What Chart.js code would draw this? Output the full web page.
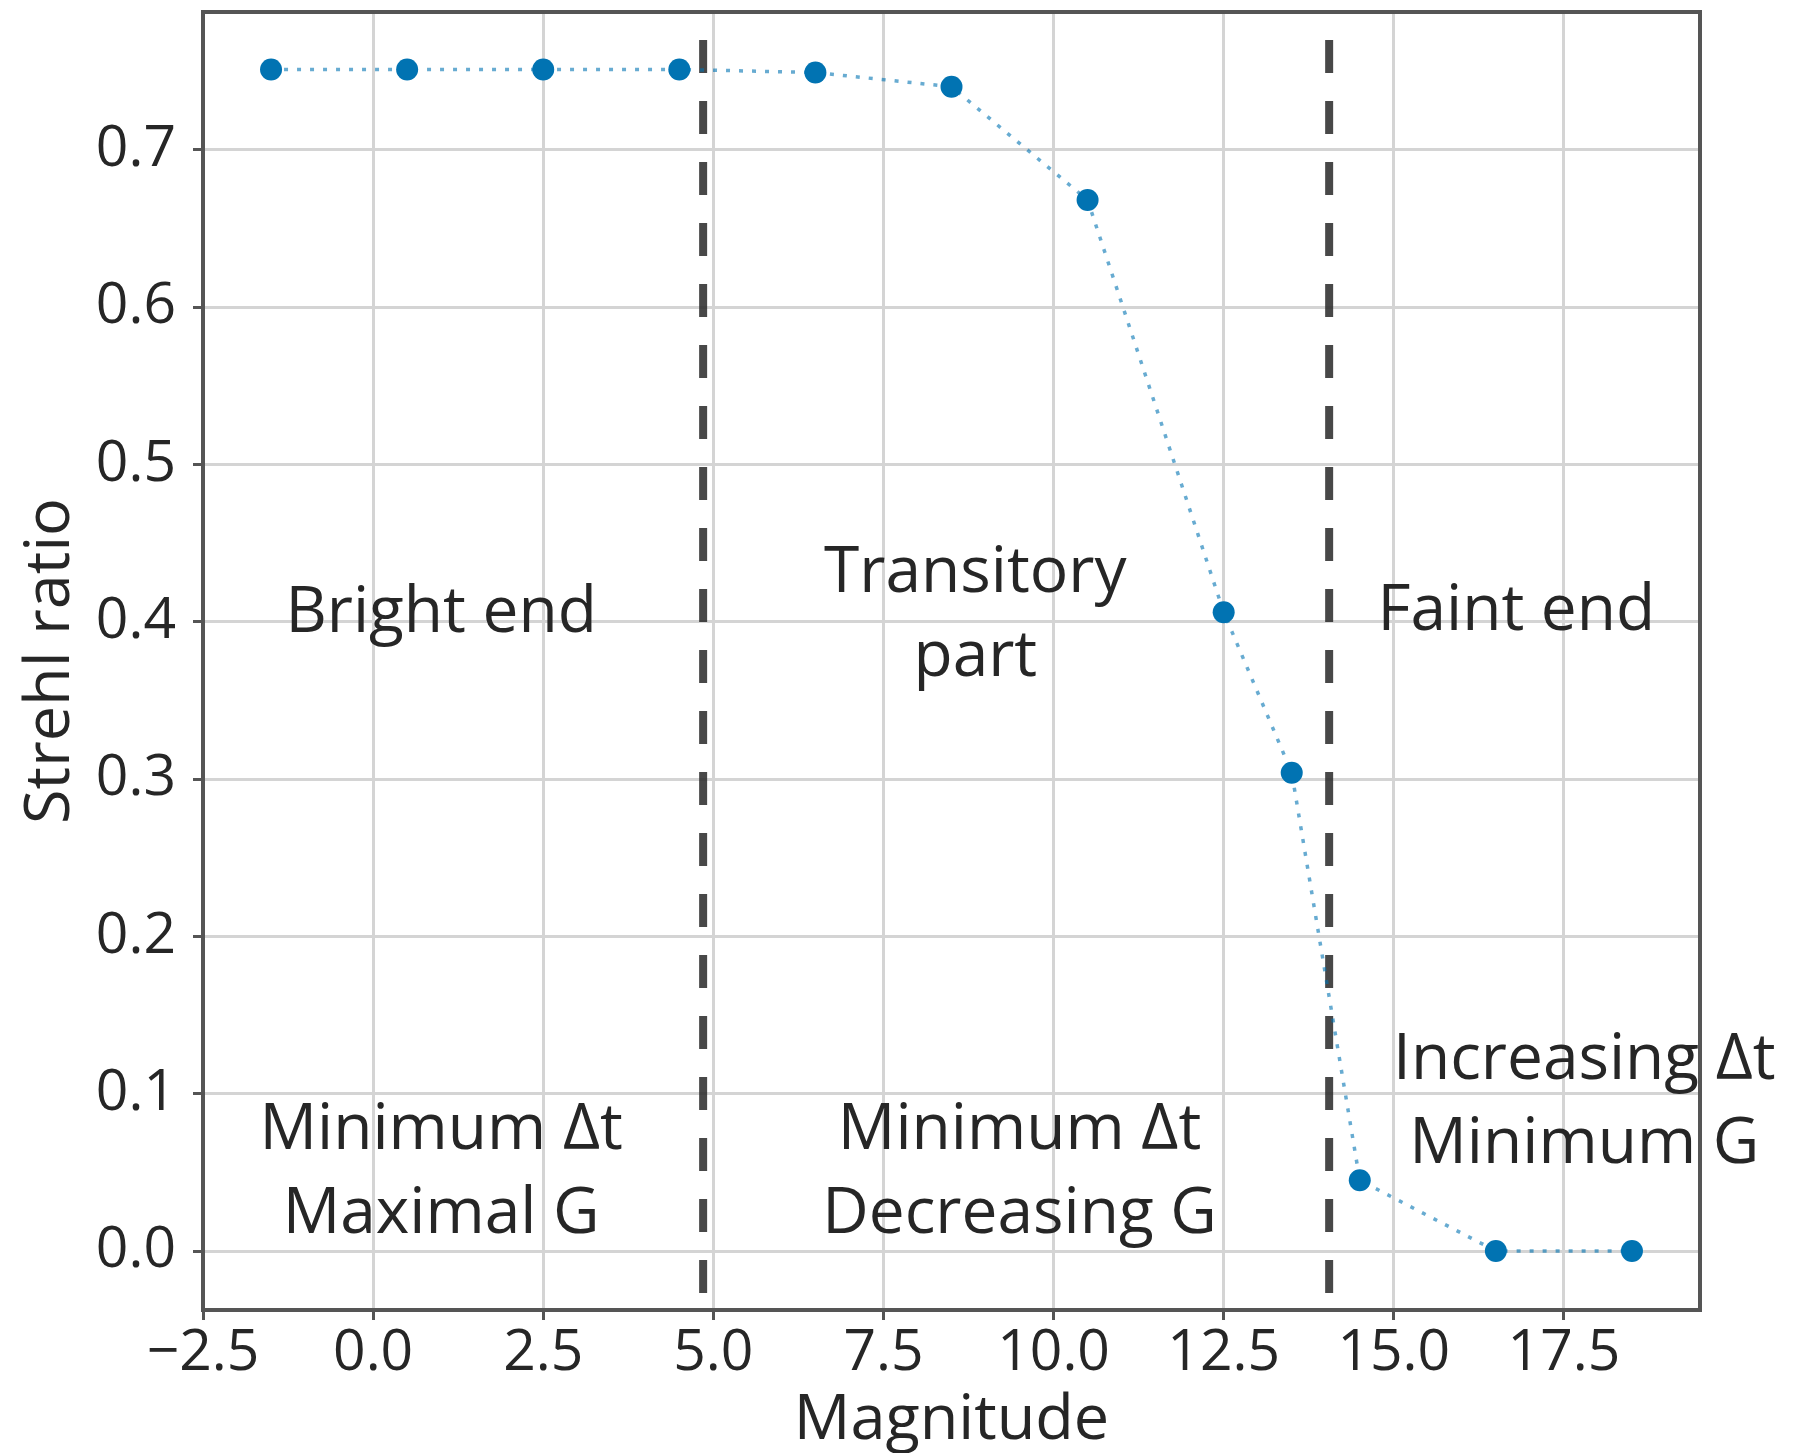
<!DOCTYPE html>
<html>
<head>
<meta charset="utf-8">
<script src="https://cdn.jsdelivr.net/npm/chart.js@4/dist/chart.umd.min.js"></script>
<style>
  html, body { margin: 0; padding: 0; background: #fff; }
  canvas { display: block; }
</style>
</head>
<body>
<canvas id="strehlChart" width="1803" height="1453"></canvas>
<script>
// Data
const magnitudes = [-1.5, 0.5, 2.5, 4.5, 6.5, 8.5, 10.5, 12.5, 13.5, 14.5, 16.5, 18.5];
const strehlRatio = [0.751, 0.751, 0.751, 0.751, 0.749, 0.740, 0.668, 0.406, 0.304, 0.045, 0.0, 0.0];

// Regime boundaries (dashed vertical lines)
const boundaries = [4.85, 14.05];

// Tick labels
const xTicks = [-2.5, 0, 2.5, 5, 7.5, 10, 12.5, 15, 17.5];
const yTicks = [0, 0.1, 0.2, 0.3, 0.4, 0.5, 0.6, 0.7];

// Axis limits
const xRange = [-2.5, 19.5];
const yRange = [-0.0375, 0.7875];

// Region annotations (text + anchor in data units)
const regionText = [
    ['Bright end'],
    ['Transitory', 'part'],
    ['Faint end'],
    ['Minimum Δt', 'Maximal G'],
    ['Minimum Δt', 'Decreasing G'],
    ['Increasing Δt', 'Minimum G']
];
const regionX = [1.0, 8.85, 16.8, 1.0, 9.5, 17.8];
const regionY = [0.405, 0.404, 0.406, 0.050, 0.050, 0.094];

const FONT = "'Open Sans', 'DejaVu Sans', sans-serif";
const TEXT_COLOR = '#262626';

const fmt = v => v.toFixed(1).replace('-', '\u2212');

// Dashed lines, frame and annotations
const overlayPlugin = {
    id: 'overlay',
    beforeDatasetsDraw(chart) {
        const { ctx, chartArea, scales } = chart;
        ctx.save();
        ctx.strokeStyle = 'rgba(40, 40, 40, 0.85)';
        ctx.lineWidth = 8;
        ctx.setLineDash([33, 28]);
        ctx.lineDashOffset = 33;
        boundaries.forEach(b => {
            const px = scales.x.getPixelForValue(b);
            ctx.beginPath();
            ctx.moveTo(px, chartArea.top);
            ctx.lineTo(px, chartArea.bottom);
            ctx.stroke();
        });
        ctx.restore();
    },
    afterDraw(chart) {
        const { ctx, chartArea, scales } = chart;
        ctx.save();
        // frame
        ctx.strokeStyle = '#555555';
        ctx.lineWidth = 4;
        ctx.strokeRect(chartArea.left, chartArea.top,
            chartArea.right - chartArea.left, chartArea.bottom - chartArea.top);

        // annotations
        ctx.fillStyle = TEXT_COLOR;
        ctx.font = `64px ${FONT}`;
        ctx.textAlign = 'center';
        ctx.textBaseline = 'middle';
        const lineH = 84;
        regionText.forEach((lines, i) => {
            const cx = scales.x.getPixelForValue(regionX[i]);
            const cy = scales.y.getPixelForValue(regionY[i]);
            const y0 = cy - (lines.length - 1) * lineH / 2;
            lines.forEach((t, j) => ctx.fillText(t, cx, y0 + j * lineH));
        });
        ctx.restore();
    }
};

const ctx = document.getElementById('strehlChart').getContext('2d');
const strehlChart = new Chart(ctx, {
    type: 'line',
    data: {
        datasets: [{
            data: magnitudes.map((m, i) => ({ x: m, y: strehlRatio[i] })),
            borderColor: 'rgba(1, 115, 178, 0.6)',
            borderWidth: 3.5,
            borderDash: [4, 9],
            pointRadius: 11,
            pointBackgroundColor: '#0173b2',
            pointBorderWidth: 0,
            pointHoverRadius: 11,
            fill: false,
            tension: 0
        }]
    },
    options: {
        responsive: false,
        animation: false,
        devicePixelRatio: 1,
        clip: false,
        layout: { padding: { top: 12, right: 103, left: 0, bottom: 0 } },
        plugins: {
            legend: { display: false },
            tooltip: { enabled: false }
        },
        scales: {
            x: {
                type: 'linear',
                min: xRange[0],
                max: xRange[1],
                afterBuildTicks: s => { s.ticks = xTicks.map(v => ({ value: v })); },
                afterFit: s => { s.height = 143; s.paddingLeft = 0; s.paddingRight = 0; },
                grid: { color: '#d4d4d4', lineWidth: 3, tickLength: 10, tickColor: '#555555', tickWidth: 3 },
                border: { display: false },
                ticks: {
                    color: TEXT_COLOR,
                    font: { family: FONT, size: 57 },
                    padding: 0,
                    maxRotation: 0,
                    callback: v => fmt(v)
                },
                title: {
                    display: true,
                    text: 'Magnitude',
                    color: TEXT_COLOR,
                    font: { family: FONT, size: 63, lineHeight: 1.0 },
                    padding: { top: -3, bottom: 0 }
                }
            },
            y: {
                type: 'linear',
                min: yRange[0],
                max: yRange[1],
                afterBuildTicks: s => { s.ticks = yTicks.map(v => ({ value: v })); },
                afterFit: s => { s.width = 203; s.paddingTop = 0; s.paddingBottom = 0; },
                grid: { color: '#d4d4d4', lineWidth: 3, tickLength: 10, tickColor: '#555555', tickWidth: 3 },
                border: { display: false },
                ticks: {
                    color: TEXT_COLOR,
                    font: { family: FONT, size: 57 },
                    padding: 17,
                    callback: v => fmt(v)
                },
                title: {
                    display: true,
                    text: 'Strehl ratio',
                    color: TEXT_COLOR,
                    font: { family: FONT, size: 63 },
                    padding: { top: 13, bottom: 0 }
                }
            }
        }
    },
    plugins: [overlayPlugin]
});
</script>
</body>
</html>
